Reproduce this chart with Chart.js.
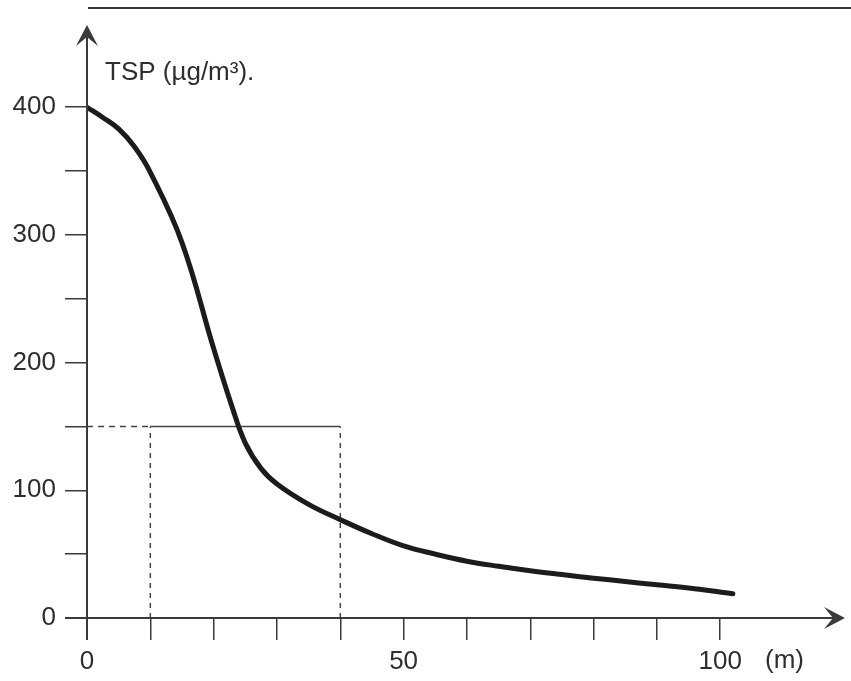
<!DOCTYPE html>
<html>
<head>
<meta charset="utf-8">
<style>
  html, body { margin: 0; padding: 0; background: #fff; }
  #wrap { width: 851px; height: 681px; }
</style>
</head>
<body>
<div id="wrap"><canvas id="chart"></canvas></div>
<script src="https://cdn.jsdelivr.net/npm/chart.js@4/dist/chart.umd.min.js"></script>
<script>
// distance from source (m) and TSP concentration (µg/m³)
const distance = [0, 2.5, 5, 7.5, 10, 15, 20, 23, 25, 27.5, 30, 35, 40, 45, 50, 55, 60, 65, 70, 75, 80, 85, 90, 95, 102];
const tsp = [400, 392, 383, 369, 349, 294, 211, 164, 137, 117, 105, 89, 77, 66, 56.5, 50, 44.5, 40.5, 37, 34, 31.2, 28.6, 26, 23.5, 19];

// 150 µg/m³ limit, box between 10 m and 40 m
const limitX = [0, 10, 40];
const limitY = 150;

const xTicks = [0, 10, 20, 30, 40, 50, 60, 70, 80, 90, 100];
const xLabels = [0, 50, 100];
const yTicks = [0, 50, 100, 150, 200, 250, 300, 350, 400];
const yLabels = [0, 100, 200, 300, 400];

const yTitle = 'TSP (µg/m³).';
const xTitle = '(m)';

const ink = '#3a3a3a';
const font = '"Liberation Sans", Arial, sans-serif';

const axesPlugin = {
  id: 'axes',
  afterDraw(chart) {
    const { ctx, chartArea: a } = chart;
    ctx.save();
    ctx.strokeStyle = ink;
    ctx.fillStyle = ink;
    ctx.lineWidth = 2;

    // scan border line at the top
    ctx.beginPath();
    ctx.moveTo(a.left + 1, 8);
    ctx.lineTo(chart.width, 8);
    ctx.stroke();

    // axis lines
    ctx.beginPath();
    ctx.moveTo(a.left, a.top + 4);
    ctx.lineTo(a.left, a.bottom + 22);
    ctx.moveTo(a.left - 22, a.bottom);
    ctx.lineTo(a.right - 4, a.bottom);
    ctx.stroke();

    // arrow heads
    ctx.beginPath();
    ctx.moveTo(a.left, a.top);
    ctx.lineTo(a.left - 11, a.top + 21);
    ctx.lineTo(a.left, a.top + 12);
    ctx.lineTo(a.left + 11, a.top + 21);
    ctx.closePath();
    ctx.fill();

    ctx.beginPath();
    ctx.moveTo(a.right, a.bottom);
    ctx.lineTo(a.right - 21, a.bottom - 11);
    ctx.lineTo(a.right - 12, a.bottom);
    ctx.lineTo(a.right - 21, a.bottom + 11);
    ctx.closePath();
    ctx.fill();

    // titles
    ctx.fillStyle = '#2e2e2e';
    ctx.font = '26px ' + font;
    ctx.textBaseline = 'alphabetic';
    ctx.textAlign = 'left';
    ctx.fillText(yTitle, a.left + 18, 80);
    ctx.fillText(xTitle, 765, 668);
    ctx.restore();
  }
};

const ctx = document.getElementById('chart').getContext('2d');

new Chart(ctx, {
  type: 'scatter',
  data: {
    datasets: [
      {
        data: distance.map((x, i) => ({ x: x, y: tsp[i] })),
        showLine: true,
        borderColor: '#1c1c1c',
        borderWidth: 5,
        borderCapStyle: 'round',
        tension: 0.4,
        pointRadius: 0
      },
      {
        data: [{ x: limitX[1], y: limitY }, { x: limitX[2], y: limitY }],
        showLine: true,
        borderColor: '#444',
        borderWidth: 1.5,
        pointRadius: 0
      },
      {
        data: [{ x: limitX[0], y: limitY }, { x: limitX[1], y: limitY }],
        showLine: true,
        borderColor: '#444',
        borderWidth: 1.5,
        borderDash: [6, 5],
        pointRadius: 0
      },
      {
        data: [{ x: limitX[1], y: 0 }, { x: limitX[1], y: limitY }],
        showLine: true,
        borderColor: '#444',
        borderWidth: 1.5,
        borderDash: [5, 5],
        pointRadius: 0
      },
      {
        data: [{ x: limitX[2], y: 0 }, { x: limitX[2], y: limitY }],
        showLine: true,
        borderColor: '#444',
        borderWidth: 1.5,
        borderDash: [5, 5],
        pointRadius: 0
      }
    ]
  },
  options: {
    responsive: true,
    maintainAspectRatio: false,
    animation: false,
    layout: { padding: { top: 25, right: 6, left: 0, bottom: 0 } },
    plugins: {
      legend: { display: false },
      tooltip: { enabled: false }
    },
    scales: {
      x: {
        type: 'linear',
        min: 0,
        max: 119.7,
        afterBuildTicks: s => { s.ticks = xTicks.map(v => ({ value: v })); },
        afterFit: s => { s.height = 63; },
        grid: { drawOnChartArea: false, drawTicks: true, tickLength: 22, color: ink, lineWidth: 1.5 },
        border: { display: false },
        ticks: {
          autoSkip: false,
          maxRotation: 0,
          padding: 6,
          color: '#2e2e2e',
          font: { family: font, size: 26 },
          callback: v => xLabels.includes(v) ? v : ''
        }
      },
      y: {
        type: 'linear',
        min: 0,
        max: 464.4,
        afterBuildTicks: s => { s.ticks = yTicks.map(v => ({ value: v })); },
        afterFit: s => { s.width = 87; },
        grid: { drawOnChartArea: false, drawTicks: true, tickLength: 22, color: ink, lineWidth: 1.5 },
        border: { display: false },
        ticks: {
          autoSkip: false,
          padding: 9,
          color: '#2e2e2e',
          font: { family: font, size: 26 },
          callback: v => yLabels.includes(v) ? v : ''
        }
      }
    }
  },
  plugins: [axesPlugin]
});
</script>
</body>
</html>
